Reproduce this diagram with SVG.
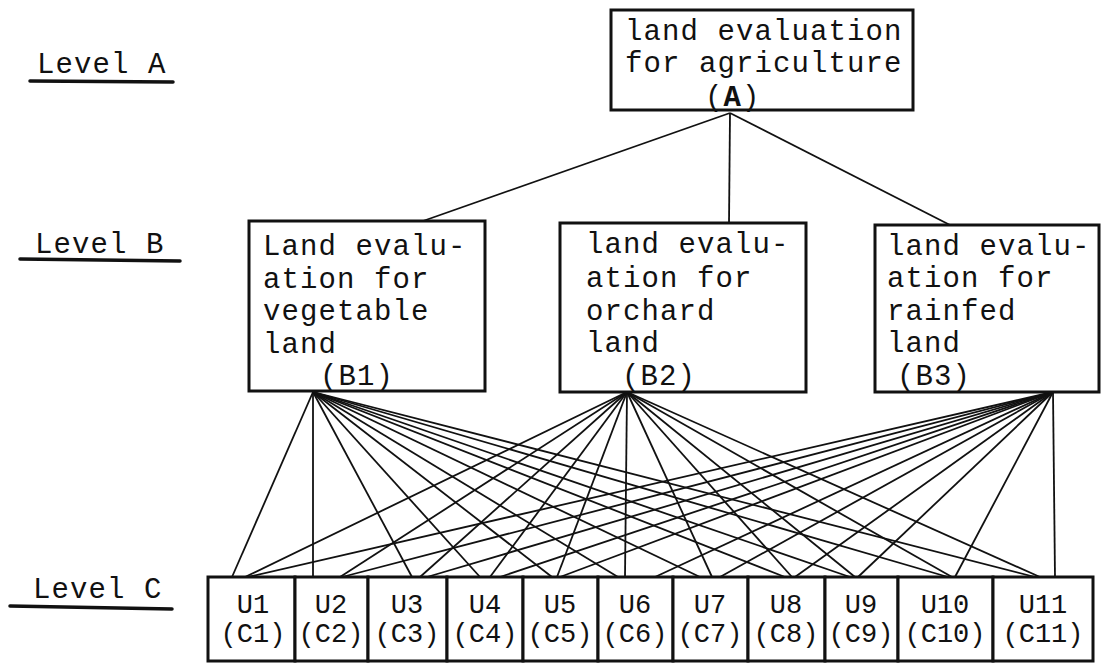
<svg xmlns="http://www.w3.org/2000/svg" width="1102" height="665" viewBox="0 0 1102 665">
<style>
  .box { fill: #fff; stroke: #111; stroke-width: 3; }
  .t { font-family: "Liberation Mono", "DejaVu Sans Mono", monospace; font-size: 29px; letter-spacing: 1.1px; fill: #111; }
  .c { font-family: "Liberation Mono", "DejaVu Sans Mono", monospace; font-size: 27px; fill: #111; text-anchor: middle; }
  .ul { stroke: #111; stroke-width: 3.5; stroke-linecap: round; }
  .ln { stroke: #111; stroke-width: 1.8; fill: none; }
</style>
<rect width="1102" height="665" fill="#fff"/>

<g id="level-labels">
  <text class="t" x="37" y="73">Level A</text>
  <line class="ul" x1="30" y1="81" x2="173" y2="82"/>
  <text class="t" x="35" y="253">Level B</text>
  <line class="ul" x1="20" y1="259" x2="180" y2="261"/>
  <text class="t" x="33" y="598">Level C</text>
  <line class="ul" x1="10" y1="606" x2="172" y2="609"/>
</g>

<g id="connectors">
  <line class="ln" x1="730" y1="113" x2="423" y2="221"/>
  <line class="ln" x1="730" y1="113" x2="729" y2="224"/>
  <line class="ln" x1="730" y1="113" x2="950" y2="225"/>
  <!-- B1 -->
  <line class="ln" x1="313" y1="392" x2="232" y2="577"/>
  <line class="ln" x1="313" y1="392" x2="313" y2="577"/>
  <line class="ln" x1="313" y1="392" x2="412" y2="577"/>
  <line class="ln" x1="313" y1="392" x2="480" y2="577"/>
  <line class="ln" x1="313" y1="392" x2="552" y2="577"/>
  <line class="ln" x1="313" y1="392" x2="618" y2="577"/>
  <line class="ln" x1="313" y1="392" x2="700" y2="577"/>
  <line class="ln" x1="313" y1="392" x2="785" y2="577"/>
  <line class="ln" x1="313" y1="392" x2="850" y2="577"/>
  <line class="ln" x1="313" y1="392" x2="948" y2="577"/>
  <line class="ln" x1="313" y1="392" x2="1035" y2="577"/>
  <!-- B2 -->
  <line class="ln" x1="627" y1="392" x2="245" y2="577"/>
  <line class="ln" x1="627" y1="392" x2="340" y2="577"/>
  <line class="ln" x1="627" y1="392" x2="420" y2="577"/>
  <line class="ln" x1="627" y1="392" x2="490" y2="577"/>
  <line class="ln" x1="627" y1="392" x2="557" y2="577"/>
  <line class="ln" x1="627" y1="392" x2="625" y2="577"/>
  <line class="ln" x1="627" y1="392" x2="712" y2="577"/>
  <line class="ln" x1="627" y1="392" x2="792" y2="577"/>
  <line class="ln" x1="627" y1="392" x2="855" y2="577"/>
  <line class="ln" x1="627" y1="392" x2="952" y2="577"/>
  <line class="ln" x1="627" y1="392" x2="1040" y2="577"/>
  <!-- B3 -->
  <line class="ln" x1="1053" y1="392" x2="248" y2="577"/>
  <line class="ln" x1="1053" y1="392" x2="342" y2="577"/>
  <line class="ln" x1="1053" y1="392" x2="427" y2="577"/>
  <line class="ln" x1="1053" y1="392" x2="500" y2="577"/>
  <line class="ln" x1="1053" y1="392" x2="560" y2="577"/>
  <line class="ln" x1="1053" y1="392" x2="655" y2="577"/>
  <line class="ln" x1="1053" y1="392" x2="720" y2="577"/>
  <line class="ln" x1="1053" y1="392" x2="795" y2="577"/>
  <line class="ln" x1="1053" y1="392" x2="858" y2="577"/>
  <line class="ln" x1="1053" y1="392" x2="955" y2="577"/>
  <line class="ln" x1="1053" y1="392" x2="1055" y2="577"/>
</g>

<g id="A">
  <rect class="box" x="611" y="10" width="302" height="100"/>
  <text class="t" x="625" y="40">land evaluation</text>
  <text class="t" x="625" y="72">for agriculture</text>
  <text class="t" x="705" y="106">(<tspan font-weight="bold">A</tspan>)</text>
</g>

<g id="B1">
  <rect class="box" x="249" y="221" width="236" height="170"/>
  <text class="t" x="263" y="255">Land evalu-</text>
  <text class="t" x="263" y="288">ation for</text>
  <text class="t" x="263" y="320">vegetable</text>
  <text class="t" x="263" y="353">land</text>
  <text class="t" x="320" y="385">(B1)</text>
</g>

<g id="B2">
  <rect class="box" x="560" y="223" width="246" height="169"/>
  <text class="t" x="586" y="253">land evalu-</text>
  <text class="t" x="586" y="287">ation for</text>
  <text class="t" x="586" y="320">orchard</text>
  <text class="t" x="586" y="352">land</text>
  <text class="t" x="622" y="385">(B2)</text>
</g>

<g id="B3">
  <rect class="box" x="875" y="225" width="224" height="167"/>
  <text class="t" x="887" y="255">land evalu-</text>
  <text class="t" x="887" y="287">ation for</text>
  <text class="t" x="887" y="320">rainfed</text>
  <text class="t" x="887" y="352">land</text>
  <text class="t" x="897" y="385">(B3)</text>
</g>

<g id="C1"><rect class="box" x="208" y="577" width="87" height="84"/><text class="c" x="253" y="613">U1</text><text class="c" x="253" y="642">(C1)</text></g>
<g id="C2"><rect class="box" x="295" y="577" width="73" height="84"/><text class="c" x="331" y="613">U2</text><text class="c" x="331" y="642">(C2)</text></g>
<g id="C3"><rect class="box" x="368" y="577" width="79" height="84"/><text class="c" x="407" y="613">U3</text><text class="c" x="407" y="642">(C3)</text></g>
<g id="C4"><rect class="box" x="447" y="577" width="76" height="84"/><text class="c" x="485" y="613">U4</text><text class="c" x="485" y="642">(C4)</text></g>
<g id="C5"><rect class="box" x="523" y="577" width="75" height="84"/><text class="c" x="560" y="613">U5</text><text class="c" x="560" y="642">(C5)</text></g>
<g id="C6"><rect class="box" x="598" y="577" width="75" height="84"/><text class="c" x="635" y="613">U6</text><text class="c" x="635" y="642">(C6)</text></g>
<g id="C7"><rect class="box" x="673" y="577" width="75" height="84"/><text class="c" x="710" y="613">U7</text><text class="c" x="710" y="642">(C7)</text></g>
<g id="C8"><rect class="box" x="748" y="577" width="77" height="84"/><text class="c" x="786" y="613">U8</text><text class="c" x="786" y="642">(C8)</text></g>
<g id="C9"><rect class="box" x="825" y="577" width="73" height="84"/><text class="c" x="861" y="613">U9</text><text class="c" x="861" y="642">(C9)</text></g>
<g id="C10"><rect class="box" x="898" y="577" width="95" height="84"/><text class="c" x="945" y="613">U10</text><text class="c" x="945" y="642">(C10)</text></g>
<g id="C11"><rect class="box" x="993" y="577" width="100" height="84"/><text class="c" x="1043" y="613">U11</text><text class="c" x="1043" y="642">(C11)</text></g>
</svg>
